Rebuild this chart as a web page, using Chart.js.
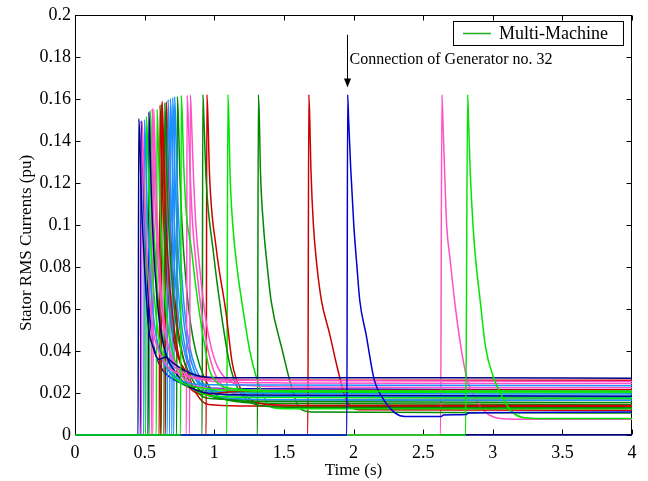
<!DOCTYPE html>
<html>
<head>
<meta charset="utf-8">
<script src="https://cdn.jsdelivr.net/npm/chart.js@4.4.1/dist/chart.umd.min.js"></script>
<style>
  html, body { margin: 0; padding: 0; background: #fff; }
  #wrap { width: 648px; height: 481px; }
</style>
</head>
<body>
<div id="wrap"><canvas id="chart" width="648" height="481"></canvas></div>
<script>
// Stator RMS current of each generator, [time (s), current (pu)]
const g01 = [[0,0],[0.453,0],[0.458,0.1505],[0.466,0.140],[0.474,0.118],[0.49,0.092],[0.51,0.068],[0.53,0.05],[0.555,0.043],[0.6,0.036],[0.65,0.037],[0.7,0.0345],[0.78,0.031],[0.9,0.028],[1.1,0.0272],[1.95,0.0272],[2.63,0.0272],[4,0.027]];
const g02 = [[0,0],[0.477,0],[0.482,0.149],[0.49,0.135],[0.5,0.112],[0.515,0.088],[0.535,0.066],[0.56,0.05],[0.6,0.04],[0.66,0.033],[0.75,0.029],[0.9,0.027],[1.2,0.026],[2,0.0258],[4,0.0255]];
const g03 = [[0,0],[0.494,0],[0.499,0.150],[0.507,0.136],[0.517,0.11],[0.533,0.085],[0.553,0.064],[0.58,0.048],[0.62,0.037],[0.68,0.03],[0.76,0.026],[0.9,0.024],[1.3,0.0238],[4,0.0235]];
const g04 = [[0,0],[0.508,0],[0.513,0.1515],[0.521,0.138],[0.531,0.113],[0.548,0.087],[0.57,0.065],[0.6,0.047],[0.64,0.036],[0.7,0.028],[0.8,0.024],[0.95,0.022],[1.3,0.021],[4,0.021]];
const g05 = [[0,0],[0.525,0],[0.53,0.1537],[0.538,0.14],[0.548,0.115],[0.565,0.088],[0.588,0.066],[0.615,0.05],[0.655,0.038],[0.72,0.03],[0.8,0.024],[0.95,0.02],[1.3,0.019],[4,0.0185]];
const g06 = [[0,0],[0.549,0],[0.554,0.1554],[0.562,0.142],[0.572,0.116],[0.59,0.089],[0.612,0.066],[0.64,0.05],[0.68,0.04],[0.74,0.032],[0.82,0.028],[1.0,0.0255],[1.5,0.0248],[4,0.0245]];
const g07 = [[0,0],[0.56,0],[0.565,0.155],[0.573,0.141],[0.583,0.115],[0.6,0.088],[0.622,0.066],[0.65,0.049],[0.69,0.037],[0.75,0.029],[0.85,0.024],[1.0,0.022],[1.5,0.0212],[4,0.021]];
const g08 = [[0,0],[0.584,0],[0.589,0.155],[0.597,0.142],[0.607,0.116],[0.625,0.088],[0.648,0.065],[0.675,0.048],[0.715,0.036],[0.78,0.027],[0.87,0.021],[1.0,0.0185],[1.5,0.0178],[4,0.0175]];
const g09 = [[0,0],[0.62,0],[0.625,0.1588],[0.633,0.146],[0.643,0.12],[0.66,0.092],[0.683,0.069],[0.71,0.052],[0.75,0.036],[0.81,0.0237],[0.94,0.0194],[1.1,0.0205],[1.4,0.0212],[4,0.0215]];
const g10 = [[0,0],[0.639,0],[0.644,0.158],[0.652,0.145],[0.662,0.119],[0.68,0.091],[0.703,0.068],[0.73,0.051],[0.77,0.038],[0.83,0.028],[0.9,0.021],[1.0,0.018],[1.3,0.016],[4,0.0155]];
const g11 = [[0,0],[0.663,0],[0.668,0.1596],[0.676,0.147],[0.686,0.12],[0.704,0.092],[0.727,0.068],[0.755,0.05],[0.795,0.037],[0.85,0.028],[0.93,0.023],[1.05,0.0205],[1.5,0.0198],[4,0.0195]];
const g12 = [[0,0],[0.68,0],[0.685,0.16],[0.693,0.147],[0.703,0.121],[0.72,0.092],[0.743,0.068],[0.77,0.05],[0.81,0.036],[0.87,0.026],[0.95,0.02],[1.1,0.0175],[1.5,0.0168],[4,0.0165]];
const g13 = [[0,0],[0.696,0],[0.701,0.1605],[0.709,0.148],[0.719,0.121],[0.737,0.093],[0.76,0.069],[0.787,0.051],[0.827,0.037],[0.88,0.027],[0.96,0.021],[1.1,0.019],[1.5,0.0183],[4,0.018]];
const g14 = [[0,0],[0.758,0],[0.763,0.1616],[0.771,0.15],[0.781,0.128],[0.8,0.105],[0.835,0.089],[0.865,0.072],[0.894,0.058],[0.93,0.043],[0.966,0.031],[1.02,0.025],[1.15,0.022],[1.5,0.021],[4,0.0205]];
const g15 = [[0,0],[0.8,0],[0.805,0.1616],[0.813,0.151],[0.825,0.128],[0.845,0.1],[0.875,0.078],[0.91,0.058],[0.95,0.042],[1.0,0.03],[1.08,0.022],[1.2,0.019],[1.5,0.018],[4,0.0175]];
const g16 = [[0,0],[0.823,0],[0.828,0.1618],[0.836,0.151],[0.848,0.128],[0.868,0.1],[0.898,0.078],[0.933,0.058],[0.973,0.043],[1.02,0.033],[1.1,0.026],[1.25,0.0235],[1.6,0.0228],[4,0.0225]];
const g17 = [[0,0],[0.913,0],[0.918,0.162],[0.926,0.15],[0.942,0.121],[0.99,0.089],[1.05,0.058],[1.11,0.034],[1.17,0.022],[1.25,0.016],[1.35,0.0138],[1.6,0.0132],[4,0.013]];
const g18 = [[0,0],[0.942,0],[0.947,0.162],[0.955,0.15],[0.966,0.124],[1.014,0.089],[1.085,0.058],[1.13,0.034],[1.19,0.022],[1.27,0.0165],[1.4,0.0145],[1.7,0.014],[4,0.014]];
const g19 = [[0,0],[1.09,0],[1.098,0.162],[1.105,0.15],[1.113,0.125],[1.133,0.1],[1.163,0.08],[1.22,0.054],[1.255,0.04],[1.3,0.028],[1.35,0.019],[1.4,0.0135],[1.5,0.0125],[4,0.0125]];
const g20 = [[0,0],[1.31,0],[1.317,0.162],[1.324,0.15],[1.331,0.127],[1.353,0.1],[1.381,0.08],[1.408,0.064],[1.49,0.04],[1.55,0.024],[1.61,0.013],[1.7,0.011],[4,0.0105]];
const g21 = [[0,0],[1.672,0],[1.679,0.162],[1.686,0.15],[1.694,0.127],[1.712,0.1],[1.738,0.08],[1.77,0.064],[1.829,0.048],[1.884,0.032],[1.948,0.0166],[2.04,0.012],[4,0.0118]];
const g22 = [[0,0],[1.952,0],[1.958,0.162],[1.965,0.15],[1.98,0.127],[2.002,0.1],[2.025,0.08],[2.045,0.064],[2.09,0.048],[2.15,0.026],[2.205,0.018],[2.3,0.0104],[2.37,0.0088],[2.63,0.0088],[2.645,0.0095],[2.81,0.0097],[2.825,0.0105],[4,0.011]];
const g23 = [[0,0],[2.625,0],[2.635,0.162],[2.642,0.15],[2.654,0.126],[2.669,0.1],[2.695,0.083],[2.724,0.065],[2.764,0.045],[2.814,0.027],[2.884,0.016],[2.954,0.0105],[3.04,0.008],[3.2,0.0075],[4,0.0075]];
const g24 = [[0,0],[2.805,0],[2.82,0.162],[2.826,0.15],[2.838,0.1256],[2.858,0.1],[2.878,0.083],[2.908,0.065],[2.948,0.042],[3.008,0.027],[3.078,0.017],[3.138,0.011],[3.23,0.0082],[3.4,0.0078],[4,0.0078]];
const g25 = [[0,0],[0.605,0],[0.61,0.157],[0.618,0.144],[0.628,0.118],[0.645,0.09],[0.668,0.067],[0.695,0.05],[0.735,0.038],[0.79,0.031],[0.87,0.028],[1.0,0.0265],[1.5,0.026],[4,0.026]];
const g26 = [[0,0],[0.47,0],[0.475,0.1495],[0.483,0.136],[0.493,0.11],[0.51,0.084],[0.53,0.062],[0.555,0.046],[0.59,0.036],[0.64,0.03],[0.72,0.026],[0.85,0.023],[1.2,0.022],[4,0.0215]];
const g27 = [[0,0],[0.615,0],[0.62,0.1575],[0.628,0.145],[0.638,0.118],[0.656,0.09],[0.679,0.067],[0.706,0.05],[0.746,0.037],[0.8,0.028],[0.87,0.021],[0.95,0.0175],[1.2,0.0168],[4,0.0165]];
const g28 = [[0,0],[0.535,0],[0.54,0.1545],[0.548,0.141],[0.558,0.115],[0.575,0.088],[0.597,0.065],[0.625,0.048],[0.665,0.036],[0.72,0.028],[0.8,0.023],[0.95,0.021],[1.3,0.0202],[4,0.02]];
const g29 = [[0,0],[0.71,0],[0.715,0.161],[0.723,0.148],[0.733,0.122],[0.751,0.093],[0.774,0.069],[0.801,0.051],[0.841,0.037],[0.9,0.027],[0.98,0.021],[1.1,0.0192],[1.5,0.0187],[4,0.0185]];
const g30 = [[0,0],[0.65,0],[0.655,0.1585],[0.663,0.146],[0.673,0.12],[0.69,0.092],[0.713,0.068],[0.74,0.05],[0.78,0.036],[0.84,0.024],[0.9,0.017],[0.96,0.0145],[1.2,0.0138],[4,0.0135]];
const g31 = [[0,0],[0.73,0],[0.735,0.161],[0.743,0.149],[0.753,0.124],[0.772,0.096],[0.8,0.071],[0.83,0.053],[0.87,0.039],[0.93,0.027],[1.0,0.02],[1.1,0.0165],[1.4,0.015],[4,0.0145]];
const g32 = [[0,0],[4,0]];

const generators = [g01,g02,g03,g04,g05,g06,g07,g08,g09,g10,g11,g12,g13,g14,g15,g16,
                    g17,g18,g19,g20,g21,g22,g23,g24,g25,g26,g27,g28,g29,g30,g31,g32];

const BLUE = '#0000d0', NAVY = '#00008b', LIME = '#00e600', GREEN = '#008800',
      RED = '#cc0000', PINK = '#ff50c8', SKY = '#1e8fff';
const genColors = [NAVY,PINK,SKY,LIME,NAVY,PINK,PINK,LIME,RED,GREEN,SKY,SKY,SKY,LIME,PINK,PINK,
                   GREEN,RED,LIME,GREEN,RED,BLUE,PINK,LIME,RED,BLUE,GREEN,LIME,SKY,RED,GREEN,NAVY];

// generators drawn on top first (Chart.js paints dataset 0 last)
const drawFirst = [14, 22, 24];

const xTicks = { min: 0, max: 4, step: 0.5 };
const yTicks = { min: 0, max: 0.2, step: 0.02 };

const legendLabel = 'Multi-Machine';
const xTitle = 'Time (s)';
const yTitle = 'Stator RMS Currents (pu)';
const noteText = 'Connection of Generator no. 32';
const noteTime = 1.955, noteTop = 0.1905, noteTip = 0.1654, noteTextY = 0.1768;

const FONT = '"Liberation Serif", "Times New Roman", serif';

function buildDatasets() {
    const order = drawFirst.map(n => n - 1);
    generators.forEach((g, i) => { if (!order.includes(i)) order.push(i); });
    // keep the always-zero generator at the very bottom
    order.splice(order.indexOf(31), 1);
    order.push(31);
    return order.map(i => ({
        label: 'Generator ' + (i + 1),
        data: generators[i].map(p => ({ x: p[0], y: p[1] })),
        borderColor: genColors[i],
        borderWidth: 1.5,
        pointRadius: 0,
        showLine: true,
        fill: false,
        cubicInterpolationMode: 'monotone',
        clip: false
    }));
}

const framePlugin = {
    id: 'frame',
    beforeDatasetsDraw(chart) {
        const { ctx, chartArea: a, scales: { x, y } } = chart;
        ctx.save();
        ctx.strokeStyle = '#000';
        ctx.lineWidth = 1;
        const L = Math.round(a.left) + 0.5, R = Math.round(a.right) - 0.5;
        const T = Math.round(a.top) + 0.5, B = Math.round(a.bottom) - 0.5;
        ctx.strokeRect(L, T, R - L, B - T);
        ctx.beginPath();
        x.ticks.forEach(t => {
            const px = Math.round(x.getPixelForValue(t.value)) + 0.5;
            ctx.moveTo(px, B); ctx.lineTo(px, B - 5);
            ctx.moveTo(px, T); ctx.lineTo(px, T + 5);
        });
        y.ticks.forEach(t => {
            const py = Math.round(y.getPixelForValue(t.value)) + 0.5;
            ctx.moveTo(L, py); ctx.lineTo(L + 5, py);
            ctx.moveTo(R, py); ctx.lineTo(R - 5, py);
        });
        ctx.stroke();
        ctx.restore();
    },
    afterDraw(chart) {
        const { ctx, chartArea: a, scales: { x, y } } = chart;
        ctx.save();
        ctx.fillStyle = '#000';
        ctx.font = '17px ' + FONT;

        // axis titles
        ctx.textAlign = 'center';
        ctx.textBaseline = 'middle';
        ctx.fillText(xTitle, (a.left + a.right) / 2, 471);
        ctx.save();
        ctx.translate(27, 243);
        ctx.rotate(-Math.PI / 2);
        ctx.fillText(yTitle, 0, 0);
        ctx.restore();

        // legend
        const bx = a.right - 179, by = 21, bw = 170, bh = 24;
        ctx.lineWidth = 1;
        ctx.strokeStyle = '#000';
        ctx.fillStyle = '#fff';
        ctx.fillRect(bx + 0.5, by + 0.5, bw, bh);
        ctx.strokeRect(bx + 0.5, by + 0.5, bw, bh);
        ctx.strokeStyle = '#1fae1f';
        ctx.lineWidth = 1.5;
        ctx.beginPath();
        ctx.moveTo(bx + 10, by + 12.5);
        ctx.lineTo(bx + 38, by + 12.5);
        ctx.stroke();
        ctx.fillStyle = '#000';
        ctx.textAlign = 'left';
        ctx.font = '18px ' + FONT;
        ctx.fillText(legendLabel, bx + 46, by + 13);

        // annotation arrow
        const ax = Math.round(x.getPixelForValue(noteTime)) + 0.5;
        const ay0 = y.getPixelForValue(noteTop), ay1 = y.getPixelForValue(noteTip);
        ctx.strokeStyle = '#000';
        ctx.lineWidth = 1;
        ctx.beginPath();
        ctx.moveTo(ax, ay0);
        ctx.lineTo(ax, ay1 - 6);
        ctx.stroke();
        ctx.beginPath();
        ctx.moveTo(ax, ay1);
        ctx.lineTo(ax - 3.5, ay1 - 9);
        ctx.lineTo(ax + 3.5, ay1 - 9);
        ctx.closePath();
        ctx.fill();
        ctx.font = '16px ' + FONT;
        ctx.textBaseline = 'alphabetic';
        ctx.fillText(noteText, ax + 2, y.getPixelForValue(noteTextY));
        ctx.restore();
    }
};

new Chart(document.getElementById('chart'), {
    type: 'scatter',
    data: { datasets: buildDatasets() },
    options: {
        responsive: false,
        animation: false,
        events: [],
        layout: { padding: { left: 0, right: 16, top: 13, bottom: 0 } },
        plugins: { legend: { display: false }, tooltip: { enabled: false } },
        scales: {
            x: {
                type: 'linear',
                min: xTicks.min, max: xTicks.max,
                ticks: {
                    stepSize: xTicks.step, color: '#000', font: { family: FONT, size: 18 }, padding: 7, maxRotation: 0,
                    callback: v => String(Math.round(v * 10) / 10)
                },
                grid: { display: false, drawTicks: false },
                border: { display: false },
                afterFit(s) { s.height = 46; }
            },
            y: {
                type: 'linear',
                min: yTicks.min, max: yTicks.max,
                ticks: {
                    stepSize: yTicks.step, color: '#000', font: { family: FONT, size: 18 }, padding: 4,
                    callback: v => String(Math.round(v * 100) / 100)
                },
                grid: { display: false, drawTicks: false },
                border: { display: false },
                afterFit(s) { s.width = 75; }
            }
        }
    },
    plugins: [framePlugin]
});
</script>
</body>
</html>
